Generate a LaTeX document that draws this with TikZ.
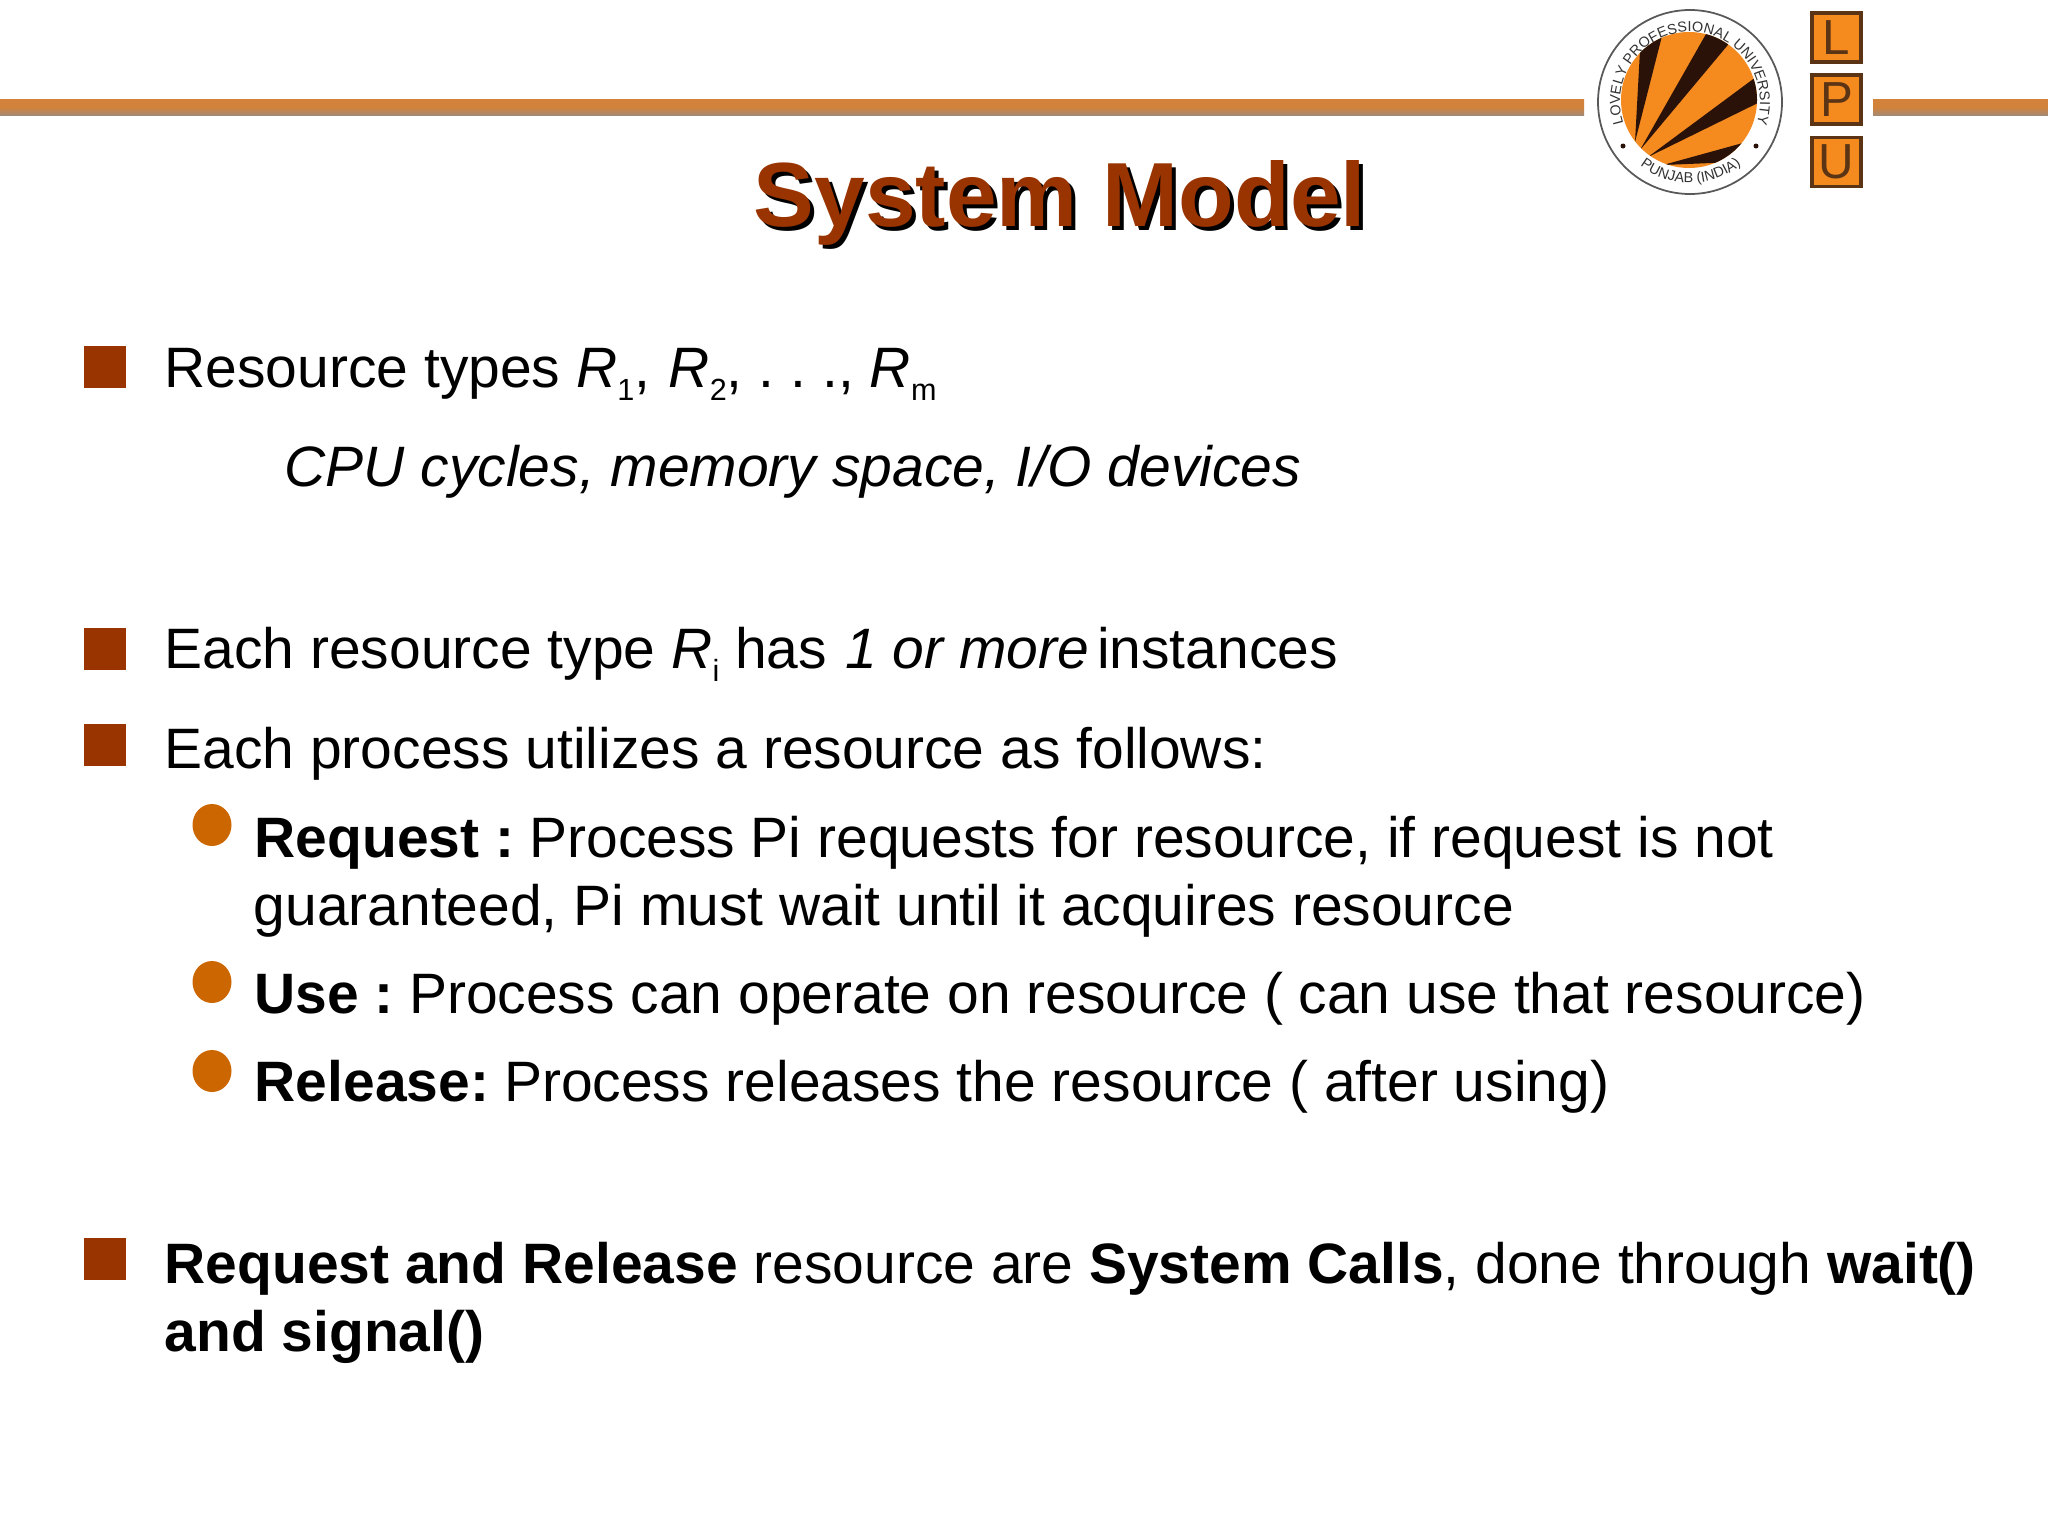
\documentclass[tikz,border=0pt]{standalone}
\usepackage{fontspec}
\setmainfont{Liberation Sans}
\usetikzlibrary{decorations.text}
\definecolor{lpubrown}{HTML}{993300}
\definecolor{lpuorange}{HTML}{F58A1F}
\definecolor{lpubullet}{HTML}{CC6600}
\definecolor{lpuline}{HTML}{D2823A}
\definecolor{lpulinelow}{HTML}{A58A72}
\definecolor{lpudark}{HTML}{2A1208}
\definecolor{lpuedge}{HTML}{5A3414}
\newcommand{\bodysize}{\fontsize{16.2}{20}\selectfont}
\newcommand{\titlesize}{\fontsize{25.9}{30}\selectfont}
\newcommand{\logosize}{\fontsize{4.1}{5}\selectfont}
\newcommand{\lowidx}[1]{\raisebox{-3.7pt}{\fontsize{8.7}{10}\selectfont #1}}
\tikzset{
    bodytext/.style = {anchor = base west, inner sep = 0, font = \bodysize, text = black},
    titletext/.style = {anchor = base west, inner sep = 0, font = \titlesize\bfseries},
    squarebullet/.style = {fill = lpubrown},
    roundbullet/.style = {fill = lpubullet},
    headerline/.style = {top color = lpuline, bottom color = lpulinelow, middle color = lpuline},
    letterbox/.style = {draw = lpuedge, line width = 1pt, fill = lpuorange, minimum width = 14pt, minimum height = 14pt, inner sep = 0, text = lpuedge, font = \fontsize{14}{16}\selectfont}
}
\begin{document}
\begin{tikzpicture}[x = 0.01cm, y = -0.01cm]
            \useasboundingbox[fill = white] (0,0) rectangle (2048,1536);
            \shade[headerline] (0,99) rectangle (1584,115);
            \shade[headerline] (1873,99) rectangle (2048,115);
            \draw (753,226) ++(4,4) node[titletext, text = black] (titleshadow) {System Model};
            \draw (753,226) node[titletext, text = lpubrown] (title) {System Model};

            \begin{scope}[shift = {(1690,102)}, y = 0.01cm]
            \draw[gray!70!black, line width = 0.5pt] (0,0) circle (92);
            \fill[lpuorange] (-1,2) circle (68);
            \begin{scope}
            \clip (-1,2) circle (68);
            \fill[lpudark] (-55,-40) -- (-49,70) -- (-27,70) -- cycle;
            \fill[lpudark] (-50,-48) -- (20,75) -- (42,62) -- cycle;
            \fill[lpudark] (-42,-55) -- (70,28) -- (76,3) -- cycle;
            \fill[lpudark] (-27,-63) -- (60,-39) -- (46,-60) -- cycle;
            \end{scope}
            \fill[lpudark] (-67,-44) circle (2.5);
            \fill[lpudark] (66,-44) circle (2.5);
            \path[decorate, decoration = {text along path, text align = fit to path, text = {|\logosize\color{gray!40!black}|LOVELY PROFESSIONAL UNIVERSITY}}] (198:70) arc (198:-18:70);
            \path[decorate, decoration = {text along path, text align = fit to path, text = {|\logosize\color{gray!40!black}|PUNJAB (INDIA)}}] (232:81) arc (232:308:81);
            \end{scope}

            \draw (1836.5,37.5) node[letterbox] (boxl) {L};
            \draw (1836.5,99.5) node[letterbox] (boxp) {P};
            \draw (1836.5,162) node[letterbox] (boxu) {U};

            \fill[squarebullet] (84,346) rectangle (126,388);
            \draw (164,387) node[bodytext] (types) {Resource types \textit{R}\lowidx{1},\hspace{5.2pt}\textit{R}\lowidx{2}, .\hspace{4.6pt}.\hspace{4.6pt}., \textit{R}\lowidx{m}};
            \draw (284,486) node[bodytext] (examples) {\textit{CPU cycles, memory space, I/O devices}};

            \fill[squarebullet] (84,628) rectangle (126,670);
            \draw (164,668) node[bodytext] (instances) {Each resource type \textit{R}\lowidx{i} has\hspace{5.2pt}\textit{1 or more}\hspace{2.3pt}instances};

            \fill[squarebullet] (84,724) rectangle (126,766);
            \draw (164,768) node[bodytext] (utilizes) {Each process utilizes a resource as follows:};

            \fill[roundbullet] (212,825) circle [x radius = 19.5, y radius = 21];
            \draw (254,857) node[bodytext] (requesta) {\textbf{Request :}\hspace{4.3pt}Process Pi requests for resource, if request is not};
            \draw (253,925) node[bodytext] (requestb) {guaranteed, Pi must wait until it acquires resource};

            \fill[roundbullet] (212,982) circle [x radius = 19.5, y radius = 21];
            \draw (254,1013) node[bodytext] (use) {\textbf{Use :}\hspace{4.3pt}Process can operate on resource ( can use that resource)};

            \fill[roundbullet] (212,1071) circle [x radius = 19.5, y radius = 21];
            \draw (254,1101) node[bodytext] (release) {\textbf{Release:}\hspace{4.3pt}Process releases the resource ( after using)};

            \fill[squarebullet] (84,1238) rectangle (126,1280);
            \draw (164,1283) node[bodytext] (callsa) {\textbf{Request and Release} resource are \textbf{System Calls}, done through \textbf{wait()}};
            \draw (164,1351) node[bodytext] (callsb) {\textbf{and signal()}};
        \end{tikzpicture}
\end{document}
